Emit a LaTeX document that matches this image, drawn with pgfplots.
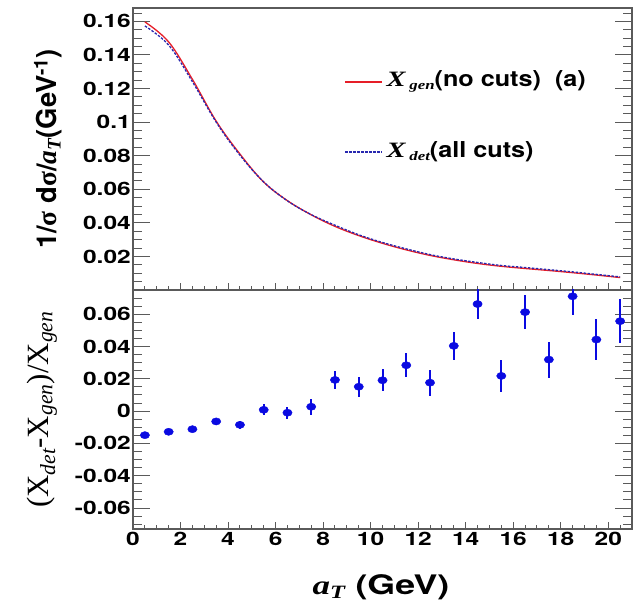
\documentclass[border=0pt]{standalone}
\usepackage{pgfplots}
\pgfplotsset{compat=1.18}
\usepackage{fontspec}
\setmainfont{TeX Gyre Heros}
\newfontfamily\hvs[FakeStretch=1.33]{TeX Gyre Heros}
\newfontfamily\hvl[FakeStretch=1.15]{TeX Gyre Heros}
\newfontfamily\tms{Liberation Serif}
\newfontfamily\tmss[FakeStretch=1.3]{Liberation Serif}

\definecolor{rootred}{RGB}{230,30,40}
\definecolor{rootblue}{RGB}{40,40,175}
\definecolor{ptblue}{RGB}{10,10,225}
\definecolor{frame}{RGB}{90,90,90}

\pgfplotstableread{
x y
0.5 0.1597
1.5 0.1478
2.5 0.1255
3.5 0.1006
4.5 0.0810
5.5 0.0643
6.5 0.0532
7.5 0.0448
8.5 0.0379
9.5 0.0324
10.5 0.0278
11.5 0.0239
12.5 0.0206
13.5 0.0180
14.5 0.0158
15.5 0.0141
16.5 0.0128
17.5 0.0116
18.5 0.0103
19.5 0.0089
20.5 0.0074
}\gen

\pgfplotstableread{
x y
0.5 0.1573
1.5 0.1459
2.5 0.1241
3.5 0.1000
4.5 0.0803
5.5 0.0644
6.5 0.0531
7.5 0.0449
8.5 0.0386
9.5 0.0329
10.5 0.0283
11.5 0.0245
12.5 0.0211
13.5 0.0185
14.5 0.0164
15.5 0.0146
16.5 0.0134
17.5 0.0121
18.5 0.0108
19.5 0.0093
20.5 0.0078
}\det

\pgfplotstableread{
x y e
0.5 -0.0149 0.0008
1.5 -0.0128 0.0010
2.5 -0.0112 0.0014
3.5 -0.0064 0.0022
4.5 -0.0085 0.0026
5.5 0.0008 0.0035
6.5 -0.0010 0.0038
7.5 0.0027 0.0050
8.5 0.0193 0.0058
9.5 0.0151 0.0062
10.5 0.0191 0.0068
11.5 0.0284 0.0074
12.5 0.0176 0.0080
13.5 0.0404 0.0087
14.5 0.0663 0.0092
15.5 0.0218 0.0100
16.5 0.0613 0.0104
17.5 0.0319 0.0112
18.5 0.0711 0.0118
19.5 0.0443 0.0125
20.5 0.0557 0.0135
}\ratio

\pgfplotsset{
  rootframe/.style={
    scale only axis, width=499bp,
    xmin=0, xmax=21,
    axis line style={frame, line width=1.2bp},
    tick style={frame, line width=1bp},
    xtick={0,2,...,20}, minor xtick={0,0.5,...,21},
    xtick style={/pgfplots/major tick length=7bp, /pgfplots/minor tick length=3.5bp},
    ytick style={/pgfplots/major tick length=17bp, /pgfplots/minor tick length=9bp},
    xtick pos=bottom, ytick pos=both,
    scaled y ticks=false,
    /pgf/number format/assume math mode=true,
    /pgf/number format/fixed, /pgf/number format/precision=2,
    ticklabel style={font=\fontsize{18.5}{20}\hvs\bfseries},
    yticklabel style={inner sep=2bp},
  }
}

\begin{document}
\begin{tikzpicture}[x=1bp,y=1bp]
\useasboundingbox (0,0) rectangle (642,603);

% upper panel
\begin{axis}[rootframe,
  at={(133bp,313bp)}, anchor=south west, height=282bp,
  ymin=0, ymax=0.168,
  ytick={0.02,0.04,...,0.16},
  minor ytick={0.005,0.01,...,0.165},
  xticklabels={},
  ylabel={\bfseries 1/{\tms σ} d{\tms σ}/{\tms\itshape a}\textsubscript{\tms\itshape T}(GeV\textsuperscript{-1})},
  ylabel style={at={(axis description cs:-0.170,0.5)}, anchor=center,
    font=\fontsize{27.5}{30}\selectfont},
]
\addplot[rootred, line width=1.3bp, smooth, tension=0.6] table {\gen};
\addplot[rootblue, line width=1.3bp, dash pattern=on 2.5bp off 1.5bp, smooth, tension=0.6] table {\det};

\draw[rootred, line width=1.3bp] (rel axis cs:0.425,0.738) -- (rel axis cs:0.499,0.738);
\draw[rootblue, line width=1.3bp, dash pattern=on 2.5bp off 1.5bp] (rel axis cs:0.425,0.489) -- (rel axis cs:0.499,0.489);
\node[anchor=west, inner sep=0] at (rel axis cs:0.508,0.738)
  {\fontsize{22}{24}\hvl\bfseries{\tmss\itshape X\,\fontsize{13}{14}\selectfont\raisebox{-3bp}{gen}}(no cuts)\hspace{14bp}(a)};
\node[anchor=west, inner sep=0] at (rel axis cs:0.508,0.489)
  {\fontsize{22}{24}\hvl\bfseries{\tmss\itshape X\,\fontsize{13}{14}\selectfont\raisebox{-3bp}{det}}(all cuts)};
\end{axis}

% lower panel
\begin{axis}[rootframe,
  at={(133bp,74bp)}, anchor=south west, height=239bp,
  ymin=-0.073, ymax=0.075,
  ytick={-0.06,-0.04,...,0.061},
  minor ytick={-0.07,-0.065,...,0.075},
  xlabel={{\tmss\itshape a}\textsubscript{\tmss\itshape T} (GeV)},
  xlabel style={at={(axis description cs:0.497,-0.245)}, anchor=center,
    font=\fontsize{27}{30}\hvs\bfseries},
  ylabel={{\tms (X\textsubscript{\itshape det}-X\textsubscript{\itshape gen})/X\textsubscript{\itshape gen}}},
  ylabel style={at={(axis description cs:-0.182,0.5)}, anchor=center,
    font=\fontsize{31}{34}\selectfont},
]
\addplot[ptblue, only marks, mark=*, mark size=3.6bp, mark options={xscale=1.3},
  error bars/.cd, y dir=both, y explicit,
  error bar style={ptblue, line width=2bp}, error mark=none]
  table[x=x, y=y, y error=e] {\ratio};
\end{axis}
\end{tikzpicture}
\end{document}
